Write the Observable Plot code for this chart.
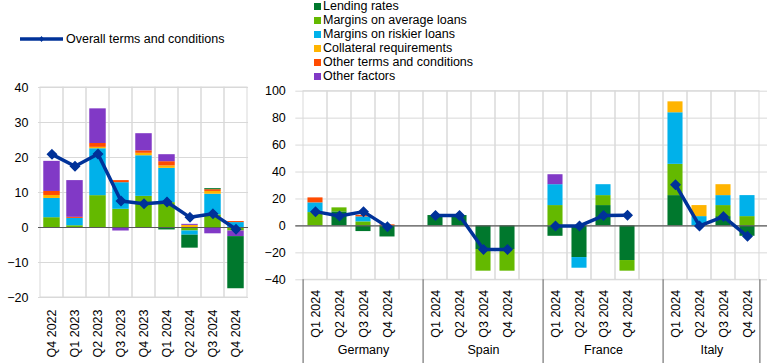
<!DOCTYPE html>
<html><head><meta charset="utf-8">
<script src="https://cdn.jsdelivr.net/npm/d3@7"></script>
<script src="https://cdn.jsdelivr.net/npm/@observablehq/plot@0.6"></script>
<style>
body{margin:0;background:#fff;font-family:"Liberation Sans",Arial,sans-serif;}
#wrap{position:relative;width:783px;height:363px;overflow:hidden;background:#fff;}
#left{position:absolute;left:0;top:80px;}
#right{position:absolute;left:260px;top:80px;}
.leg{position:absolute;font-size:12.5px;color:#000;white-space:nowrap;line-height:14px;}
.sw{position:absolute;width:6.5px;height:6.5px;}
svg{overflow:visible;}
</style></head><body>
<div id="wrap">
  <div id="lineLegend"></div>
  <div id="barLegend"></div>
  <div id="left"></div>
  <div id="right"></div>
</div>
<script>
// ---------- legend / series ----------
const seriesNames = ["Lending rates","Margins on average loans","Margins on riskier loans","Collateral requirements","Other terms and conditions","Other factors"];
const seriesColors = ["#00782d","#64b900","#00b1ea","#ffb400","#ff4b00","#8139c6"];
const lineName = "Overall terms and conditions";
const lineColor = "#003299";

// ---------- euro area panel ----------
const euroQuarters = ["Q4 2022","Q1 2023","Q2 2023","Q3 2023","Q4 2023","Q1 2024","Q2 2024","Q3 2024","Q4 2024"];
const euroLending      = [0, 0, 0, 0, 0, -0.7, -3.7, 0.3, -14.9];
const euroAvg          = [2.8, 0.5, 9.1, 5.2, 8.9, 7.1, -1.0, 3.6, -1.0];
const euroRiskier      = [5.5, 2.1, 13.4, 7.6, 11.6, 9.8, -1.2, 5.9, 1.4];
const euroCollateral   = [0.85, 0, 0.4, 0, 0.7, 0.7, 0.6, 0.8, 0];
const euroOtherTerms   = [1.15, 0.3, 1.1, 0.6, 0.7, 1.2, 0, 0.5, 0.3];
const euroOtherFactors = [8.6, 10.5, 9.9, -1.0, 4.9, 2.0, 0.3, -1.8, -1.6];
const euroOverall      = [20.9, 17.5, 21.0, 7.6, 6.8, 7.3, 2.9, 3.9, -0.5];
const euroYTicks = [-20, -10, 0, 10, 20, 30, 40];

// ---------- country panel ----------
const countries = ["Germany","Spain","France","Italy"];
const countryQuarters = ["Q1 2024","Q2 2024","Q3 2024","Q4 2024"];
// values ordered Germany Q1..Q4, Spain Q1..Q4, France Q1..Q4, Italy Q1..Q4
const countryLending      = [0, 10.4, -4.2, -8.2,   7.7, 7.7, -17.5, -17.5,   -7.7, -23.5, 15.1, -25.7,   22.5, 0, 6.9, -7.7];
const countryAvg          = [9.9, 3.0, 3.0, 0,      0, 0, -16.1, -16.1,       15.1, 0, 7.4, -7.9,         23.2, 0, 8.2, 6.9];
const countryRiskier      = [7.2, 0, 3.7, 0,        0, 0, 0, 0,               15.5, -7.9, 8.1, 0,         38.3, 6.9, 7.4, 15.6];
const countryCollateral   = [0, 0, 0, 0,            0, 0, 0, 0,               0, 0, 0, 0,                 8.1, 8.2, 8.1, 0];
const countryOtherTerms   = [3.7, 0, 1.2, 0.8,      0, 0, 0, 0,               0, 0, 0, 0,                 0, 0, 0, 0];
const countryOtherFactors = [0, 0, 0, 0,            0, 0, 0, 0,               7.4, 0, 0, 0,               0, 0, 0, 0];
const countryOverall      = [10.6, 7.4, 10.6, -0.7, 7.7, 7.7, -17.5, -17.5,   0, 0, 7.7, 7.9,             30.6, 0, 6.9, -7.7];
const countryYTicks = [-40, -20, 0, 20, 40, 60, 80, 100];

const font = "'Liberation Sans', Arial, sans-serif";
const grid = "#d9d9d9";
const axisDark = "#595959";

// ---------- legends ----------
(function(){
  const ll = document.getElementById("lineLegend");
  ll.innerHTML = `<svg width="50" height="12" style="position:absolute;left:18px;top:32.5px">
      <line x1="2" x2="45" y1="6" y2="6" stroke="${lineColor}" stroke-width="3.5"/>
      <path d="M23.5,3 L26,6 L23.5,9 L21,6 Z" fill="${lineColor}"/></svg>
    <div class="leg" style="left:66px;top:31.5px">${lineName}</div>`;
  const bl = document.getElementById("barLegend");
  seriesNames.forEach((n, i) => {
    const cy = 6 + 14 * i;
    bl.insertAdjacentHTML("beforeend",
      `<div class="sw" style="left:314px;top:${cy - 3}px;background:${seriesColors[i]}"></div>
       <div class="leg" style="left:323px;top:${cy - 7.5}px">${n}</div>`);
  });
})();

// ---------- euro area chart ----------
const euroStack = [
  ["Margins on average loans", euroAvg],
  ["Margins on riskier loans", euroRiskier],
  ["Collateral requirements", euroCollateral],
  ["Other terms and conditions", euroOtherTerms],
  ["Other factors", euroOtherFactors],
  ["Lending rates", euroLending]
];
const euroRows = [];
euroStack.forEach(([name, vals]) => vals.forEach((v, i) => { if (v !== 0) euroRows.push({q: euroQuarters[i], series: name, value: v}); }));
const euroLine = euroQuarters.map((q, i) => ({q, value: euroOverall[i]}));

const L = {width: 260, height: 283, ml: 38, mr: 12, mt: 7, mb: 66};
const lbw = (L.width - L.ml - L.mr) / euroQuarters.length;

const left = Plot.plot({
  width: L.width, height: L.height,
  marginLeft: L.ml, marginRight: L.mr, marginTop: L.mt, marginBottom: L.mb,
  style: {fontFamily: font, fontSize: "12.5px", color: "#000", background: "transparent", overflow: "visible"},
  x: {domain: euroQuarters, padding: 0},
  y: {domain: [-20, 40]},
  color: {domain: seriesNames, range: seriesColors},
  marks: [
    Plot.gridY(euroYTicks, {stroke: grid, strokeOpacity: 1}),
    Plot.cell(euroQuarters, {x: d => d, fill: "none", stroke: grid}),
    Plot.barY(euroRows, {x: "q", y: "value", fill: "series", insetLeft: lbw * 0.14, insetRight: lbw * 0.14}),
    Plot.ruleY([0], {stroke: axisDark, strokeWidth: 1.2}),
    Plot.line(euroLine, {x: "q", y: "value", stroke: lineColor, strokeWidth: 3.5}),
    Plot.dot(euroLine, {x: "q", y: "value", symbol: "diamond2", r: 4, fill: lineColor, stroke: lineColor}),
    Plot.axisY(euroYTicks, {tickSize: 0, tickPadding: 10, fontSize: 12.5, label: null}),
    Plot.axisX({tickRotate: -90, tickSize: 0, tickPadding: 12, fontSize: 12.5, label: null})
  ]
});
document.getElementById("left").appendChild(left);

// ---------- country chart ----------
const keyOf = (c, q) => c + "|" + q;
const countryDomain = [];
countries.forEach((c, ci) => {
  countryQuarters.forEach(q => countryDomain.push(keyOf(c, q)));
  if (ci < countries.length - 1) countryDomain.push("gap" + ci);
});
const countryStack = [
  ["Lending rates", countryLending],
  ["Margins on average loans", countryAvg],
  ["Margins on riskier loans", countryRiskier],
  ["Collateral requirements", countryCollateral],
  ["Other terms and conditions", countryOtherTerms],
  ["Other factors", countryOtherFactors]
];
const countryRows = [];
countryStack.forEach(([name, vals]) => vals.forEach((v, i) => {
  if (v !== 0) countryRows.push({key: keyOf(countries[Math.floor(i / 4)], countryQuarters[i % 4]), series: name, value: v});
}));
const countryLine = countryOverall.map((v, i) => ({
  country: countries[Math.floor(i / 4)],
  key: keyOf(countries[Math.floor(i / 4)], countryQuarters[i % 4]),
  value: v
}));

const R = {width: 523, height: 283, ml: 35.3, mr: 16, mt: 10.7, mb: 83.7};
const rbw = (R.width - R.ml - R.mr) / countryDomain.length;
const rPlotH = R.height - R.mt - R.mb;

const sepLeft = countries.map(c => keyOf(c, countryQuarters[0]));
const sepRight = [keyOf(countries[countries.length - 1], countryQuarters[3])];
const labelsGap = countries.slice(0, -1).map(c => ({key: keyOf(c, countryQuarters[2]), name: c}));
const labelsLast = [{key: keyOf(countries[countries.length - 1], countryQuarters[1]), name: countries[countries.length - 1]}];

const right = Plot.plot({
  width: R.width, height: R.height,
  marginLeft: R.ml, marginRight: R.mr, marginTop: R.mt, marginBottom: R.mb,
  style: {fontFamily: font, fontSize: "12.5px", color: "#000", background: "transparent", overflow: "visible"},
  x: {domain: countryDomain, padding: 0},
  y: {domain: [-40, 100]},
  color: {domain: seriesNames, range: seriesColors},
  marks: [
    Plot.gridY(countryYTicks, {stroke: grid, strokeOpacity: 1}),
    Plot.cell(countryDomain, {x: d => d, fill: "none", stroke: grid}),
    Plot.barY(countryRows, {x: "key", y: "value", fill: "series", insetLeft: rbw * 0.18, insetRight: rbw * 0.18}),
    Plot.ruleY([0], {stroke: axisDark, strokeWidth: 1.2}),
    Plot.line(countryLine, {x: "key", y: "value", z: "country", stroke: lineColor, strokeWidth: 3.5}),
    Plot.dot(countryLine, {x: "key", y: "value", symbol: "diamond2", r: 4, fill: lineColor, stroke: lineColor}),
    Plot.ruleX(sepLeft, {x: d => d, dx: -rbw / 2, stroke: axisDark, insetTop: rPlotH, insetBottom: -R.mb}),
    Plot.ruleX(sepRight, {x: d => d, dx: rbw / 2, stroke: axisDark, insetTop: rPlotH, insetBottom: -R.mb}),
    Plot.text(labelsGap, {x: "key", text: "name", frameAnchor: "bottom", dy: 74, fontSize: 12.5, fill: "#000"}),
    Plot.text(labelsLast, {x: "key", text: "name", frameAnchor: "bottom", dy: 74, dx: rbw / 2, fontSize: 12.5, fill: "#000"}),
    Plot.axisY(countryYTicks, {tickSize: 0, tickPadding: 10, fontSize: 12.5, label: null}),
    Plot.axisX({tickRotate: -90, tickSize: 0, tickPadding: 10, fontSize: 12.5, label: null,
      tickFormat: d => d.startsWith("gap") ? "" : d.split("|")[1]})
  ]
});
document.getElementById("right").appendChild(right);
</script>
</body></html>
